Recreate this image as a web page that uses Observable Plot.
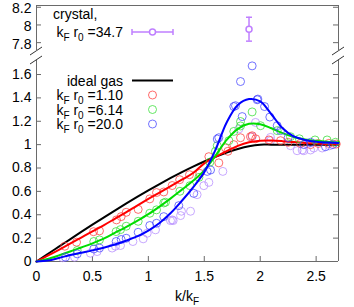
<!DOCTYPE html>
<html><head><meta charset="utf-8">
<script src="https://cdn.jsdelivr.net/npm/d3@7"></script>
<script src="https://cdn.jsdelivr.net/npm/@observablehq/plot@0.6"></script>
<style>
body{margin:0;background:#fff;}
#chart{position:relative;width:354px;height:307px;background:#fff;}
#chart svg{position:absolute;left:0;top:0;display:block;overflow:visible;}
</style>
</head><body><div id="chart"></div>
<script>
// ---- data ----
const kGrid     = [0,0.1,0.2,0.3,0.4,0.5,0.6,0.7,0.8,0.9,1.0,1.1,1.2,1.3,1.4,1.5,1.6,1.7,1.8,1.9,2.0,2.1,2.2,2.3,2.4,2.5,2.6,2.7];
const idealGas  = [0,0.064,0.127,0.190,0.253,0.315,0.376,0.436,0.495,0.553,0.609,0.663,0.715,0.765,0.812,0.856,0.896,0.932,0.963,0.987,1.0,1.0,1.0,1.0,1.0,1.0,1.0,1.0];
const fit110    = [0,0.050,0.100,0.152,0.205,0.258,0.310,0.365,0.420,0.478,0.535,0.590,0.645,0.700,0.757,0.840,0.895,0.945,0.990,1.020,1.033,1.035,1.030,1.022,1.015,1.010,1.005,1.003];
const fit614    = [0,0.022,0.052,0.085,0.120,0.155,0.195,0.245,0.295,0.348,0.405,0.470,0.540,0.615,0.690,0.780,0.905,1.040,1.135,1.178,1.175,1.140,1.098,1.065,1.045,1.033,1.025,1.020];
const fit200    = [0,0.008,0.030,0.055,0.075,0.095,0.118,0.145,0.178,0.215,0.265,0.330,0.415,0.520,0.635,0.765,0.955,1.190,1.340,1.390,1.370,1.260,1.140,1.070,1.040,1.025,1.018,1.015];

const pts110K = [0.253,0.358,0.51,0.563,0.715,0.757,0.802,0.909,1.013,1.073,1.138,1.213,1.28,1.368,1.46,1.541,1.63,1.69,1.711,1.764,1.824,1.913,1.928,1.96,2.078,2.182,2.25,2.36,2.45,2.52,2.613,2.68];
const pts110S = [0.131,0.165,0.255,0.262,0.356,0.384,0.421,0.446,0.536,0.590,0.595,0.650,0.700,0.743,0.754,0.897,0.844,0.971,0.943,1.000,1.059,1.068,1.076,1.050,1.040,1.034,1.020,1.011,1.000,1.010,1.011,1.005];
const pts614K = [0.364,0.512,0.563,0.712,0.751,0.802,0.909,1.013,1.073,1.138,1.153,1.282,1.372,1.452,1.55,1.6,1.616,1.72,1.764,1.824,1.824,1.928,2.003,2.152,2.271,2.35,2.49,2.598,2.673];
const pts614S = [0.094,0.171,0.185,0.256,0.273,0.302,0.344,0.413,0.442,0.501,0.507,0.601,0.649,0.720,0.850,0.943,0.991,1.034,1.113,1.198,1.160,1.280,1.162,1.120,1.068,1.050,1.040,1.040,1.020];
const pts200K = [0.259,0.364,0.512,0.563,0.712,0.757,0.802,0.909,1.013,1.073,1.138,1.272,1.406,1.526,1.556,1.616,1.63,1.764,1.779,1.824,1.839,1.928,1.973,1.979,2.039,2.086,2.152,2.182,2.25,2.39,2.45,2.584,2.65];
const pts200S = [0.037,0.065,0.107,0.115,0.171,0.188,0.199,0.250,0.308,0.327,0.384,0.478,0.583,0.771,0.783,1.048,1.059,1.326,1.333,1.540,1.240,1.674,1.384,1.390,1.326,1.236,1.162,1.120,1.060,1.000,1.020,0.982,1.000];
const ptsCrK   = [0.235,0.34,0.482,0.542,0.676,0.706,0.751,0.862,0.954,0.99,1.064,1.198,1.213,1.222,1.288,1.296,1.377,1.436,1.496,1.541,1.666,1.809,1.928,1.958,2.092,2.092,2.271,2.33,2.375,2.39,2.45,2.479,2.554,2.62];
const ptsCrS   = [0.032,0.037,0.071,0.085,0.115,0.131,0.137,0.171,0.194,0.242,0.271,0.350,0.356,0.350,0.393,0.430,0.430,0.572,0.649,0.677,0.771,1.134,1.068,1.190,1.062,1.034,0.991,0.948,0.954,0.948,0.954,0.971,0.971,0.990];
const crystalPeakK = [1.90];
const crystalPeakS = [7.952];
const crystalPeakErr = [0.135];

const xTicks = [0,0.5,1,1.5,2,2.5];
const yTicksLow = [0,0.2,0.4,0.6,0.8,1,1.2,1.4,1.6];
const yTicksUp  = [7.8,8,8.2];
const yDomainLow = [0,1.72];
const yDomainUp  = [7.7,8.22];
const xDomain = [0,2.7];
const seriesLabels = ["1.10","6.14","20.0"];
const crystalLabel = "34.7";

const colLine = {ideal:"#000000", r110:"#ff0000", r614:"#00dd00", r200:"#0000ff"};
const colDot  = {r110:"#ff3b3b", r614:"#33dd33", r200:"#4444ff", cr:"#b58cff"};
const crystalColor = "#bf7fff";
const frameColor = "#6a6a6a";

// ---- tables ----
const curveRows = kGrid.map((k,i)=>({k, ideal:idealGas[i], a:fit110[i], b:fit614[i], c:fit200[i]}));
const toRows = (K,S)=>K.map((k,i)=>({k, s:S[i]}));
const rows110 = toRows(pts110K, pts110S);
const rows614 = toRows(pts614K, pts614S);
const rows200 = toRows(pts200K, pts200S);
const rowsCr  = toRows(ptsCrK, ptsCrS);
const peakRows = crystalPeakK.map((k,i)=>({k, s:crystalPeakS[i], e:crystalPeakErr[i]}));

const hbar = {draw(ctx){ ctx.moveTo(-3,0); ctx.lineTo(3,0); }};

const W = 354, H = 307, mL = 36, mR = 16;
const frameW = W - mL - mR;
const tickLen = 5;
const FONT = "'Liberation Sans', Arial, sans-serif";
const baseStyle = {fontFamily: FONT, fontSize: "14px", background: "transparent", overflow: "visible"};

function frameSide(yDom){
  return [
    Plot.ruleX([xDomain[0]], {y1: yDom[0], y2: yDom[1], stroke: frameColor}),
    Plot.ruleX([xDomain[1]], {y1: yDom[0], y2: yDom[1], stroke: frameColor})
  ];
}
function yTickMarks(ticks, labelDy){
  return [
    Plot.tickY(ticks, {y: d=>d, insetRight: frameW - tickLen, stroke: frameColor}),
    Plot.tickY(ticks, {y: d=>d, insetLeft: frameW - tickLen, stroke: frameColor}),
    Plot.axisY({ticks, tickSize: 0, tickPadding: 5, dy: labelDy, tickFormat: d=>String(d), fontSize: 14, label: null, fill: "#000"})
  ];
}

// lower panel
const lowTop = 60, lowBottom = 46;
const lowFH = H - lowTop - lowBottom;
const lower = Plot.plot({
  width: W, height: H,
  marginLeft: mL, marginRight: mR, marginTop: lowTop, marginBottom: lowBottom,
  style: baseStyle,
  x: {domain: xDomain, axis: null},
  y: {domain: yDomainLow, axis: null},
  marks: [
    Plot.ruleY([yDomainLow[0]], {stroke: frameColor}),
    ...frameSide(yDomainLow),
    Plot.tickX(xTicks, {x: d=>d, insetTop: lowFH - tickLen, stroke: frameColor}),
    Plot.axisX({ticks: xTicks, tickSize: 0, tickPadding: 10, tickFormat: d=>String(d), fontSize: 14, label: null, fill: "#000"}),
    ...yTickMarks(yTicksLow, 0),
    Plot.dot(rowsCr, {x:"k", y:"s", r:4, stroke: colDot.cr, strokeWidth: 1, strokeOpacity: 0.75}),
    Plot.line(curveRows, {x:"k", y:"ideal", stroke: colLine.ideal, strokeWidth: 2, curve: "catmull-rom"}),
    Plot.dot(rows110, {x:"k", y:"s", r:4, stroke: colDot.r110, strokeWidth: 1, strokeOpacity: 0.75}),
    Plot.line(curveRows, {x:"k", y:"a", stroke: colLine.r110, strokeWidth: 2, curve: "catmull-rom"}),
    Plot.dot(rows614, {x:"k", y:"s", r:4, stroke: colDot.r614, strokeWidth: 1, strokeOpacity: 0.75}),
    Plot.line(curveRows, {x:"k", y:"b", stroke: colLine.r614, strokeWidth: 2, curve: "catmull-rom"}),
    Plot.dot(rows200, {x:"k", y:"s", r:4, stroke: colDot.r200, strokeWidth: 1, strokeOpacity: 0.75}),
    Plot.line(curveRows, {x:"k", y:"c", stroke: colLine.r200, strokeWidth: 2, curve: "catmull-rom"})
  ]
});

// upper panel
const upTop = 5, upBottom = H - 51;
const upper = Plot.plot({
  width: W, height: H,
  marginLeft: mL, marginRight: mR, marginTop: upTop, marginBottom: upBottom,
  style: baseStyle,
  x: {domain: xDomain, axis: null},
  y: {domain: yDomainUp, axis: null},
  marks: [
    Plot.ruleY([yDomainUp[1]], {stroke: frameColor}),
    ...frameSide(yDomainUp),
    ...yTickMarks(yTicksUp, 1.5),
    Plot.ruleX(peakRows, {x:"k", y1: d=>d.s-d.e, y2: d=>d.s+d.e, stroke: crystalColor, strokeWidth: 1.5}),
    Plot.dot(peakRows, {x:"k", y: d=>d.s-d.e, symbol: hbar, stroke: crystalColor, strokeWidth: 1.5}),
    Plot.dot(peakRows, {x:"k", y: d=>d.s+d.e, symbol: hbar, stroke: crystalColor, strokeWidth: 1.5}),
    Plot.dot(peakRows, {x:"k", y:"s", r:3, stroke: crystalColor, strokeWidth: 1.5, fill: "#fff"})
  ]
});

const chart = document.getElementById("chart");
chart.appendChild(lower);
chart.appendChild(upper);

// ---- decorations: break marks, legend, x label (subscripts) ----
const svg = d3.select(lower);
const xs = lower.scale("x"), ysL = lower.scale("y"), ysU = upper.scale("y");
const yLowTop = ysL.apply(yDomainLow[1]), yUpBot = ysU.apply(yDomainUp[0]);
const xL = xs.apply(xDomain[0]), xR = xs.apply(xDomain[1]);
[[xL,yUpBot],[xL,yLowTop],[xR,yUpBot],[xR,yLowTop]].forEach(([x,y])=>{
  svg.append("line").attr("x1",x-6).attr("y1",y+4).attr("x2",x+6).attr("y2",y-4)
     .attr("stroke","#333").attr("stroke-width",1);
});

function subText(x, y, parts, anchor){
  const t = svg.append("text").attr("x",x).attr("y",y).attr("text-anchor",anchor)
    .attr("font-family",FONT).attr("font-size",14).attr("fill","#000");
  let shift = 0;
  parts.forEach(([s, sub])=>{
    const ts = t.append("tspan").text(s);
    if (sub) { ts.attr("font-size",10).attr("dy", 4 - shift); shift = 4; }
    else if (shift) { ts.attr("dy", -shift); shift = 0; }
  });
  return t;
}
const krParts = v => [["k"],["F",true],[" r"],["0",true],[" ="+v]];

const legRight = 123, sampleX1 = 132, sampleX2 = 173, sampleXc = 152.5;
subText(53, 19, [["crystal,"]], "start");
subText(legRight, 37, krParts(crystalLabel), "end");
svg.append("line").attr("x1",sampleX1).attr("x2",sampleX2).attr("y1",32).attr("y2",32).attr("stroke",crystalColor).attr("stroke-width",1.5);
[sampleX1, sampleX2].forEach(x=>svg.append("line").attr("x1",x).attr("x2",x).attr("y1",29).attr("y2",35).attr("stroke",crystalColor).attr("stroke-width",1.5));
svg.append("circle").attr("cx",sampleXc).attr("cy",32).attr("r",3).attr("fill","#fff").attr("stroke",crystalColor).attr("stroke-width",1.5);

const rowBase = [85.5, 100, 114.5, 129];
subText(legRight, rowBase[0], [["ideal gas"]], "end");
svg.append("line").attr("x1",sampleX1).attr("x2",sampleX2).attr("y1",rowBase[0]-5).attr("y2",rowBase[0]-5).attr("stroke","#000").attr("stroke-width",2);
const dotCols = [colDot.r110, colDot.r614, colDot.r200];
seriesLabels.forEach((lab,i)=>{
  subText(legRight, rowBase[i+1], krParts(lab), "end");
  svg.append("circle").attr("cx",sampleXc).attr("cy",rowBase[i+1]-5).attr("r",4)
    .attr("fill","none").attr("stroke",dotCols[i]).attr("stroke-opacity",0.75);
});

subText((xL+xR)/2, 300.5, [["k/k"],["F",true]], "middle");
</script>
</body></html>
